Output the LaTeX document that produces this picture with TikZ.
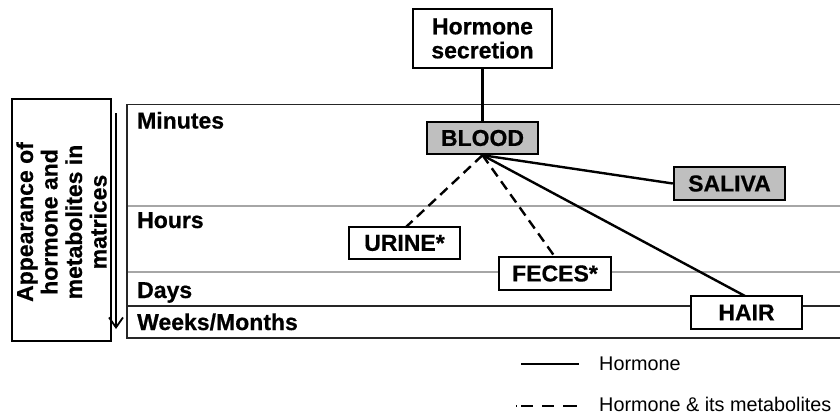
\documentclass[tikz,border=0pt]{standalone}
\usepackage{fontspec}
\setmainfont{Liberation Sans}
\newfontfamily\heavyfont{Liberation Sans Bold}[FakeBold=0.6]
\usetikzlibrary{arrows.meta}
\begin{document}
\begin{tikzpicture}[x=1pt,y=-1pt,
  box/.style={draw=black,line width=2.4pt,fill=white,inner sep=0pt,font=\fontsize{23}{24}\heavyfont,align=center},
  graybox/.style={box,fill=gray!50},
  rowlabel/.style={anchor=base west,inner sep=0pt,font=\fontsize{23}{24}\heavyfont},
  conn/.style={line width=2.4pt},
  dconn/.style={line width=2.4pt,dash pattern=on 10pt off 6pt},
  legtext/.style={anchor=west,inner sep=0pt,font=\fontsize{19.8}{24}\selectfont}]
\useasboundingbox (0,0) rectangle (840,416);
\begin{scope}
\clip (0,0) rectangle (840,416);
% table
\draw[gray!70,line width=1.4pt] (127,206) -- (850,206);
\draw[gray!70,line width=1.4pt] (127,272) -- (850,272);
\draw[black!85,line width=1.7pt] (127,306) -- (850,306);
\draw[black!85,line width=1.7pt] (850,104.5) -- (127,104.5) -- (127,338) -- (850,338);
\end{scope}
\node[rowlabel] (minutes) at (137,128.5) {Minutes};
\node[rowlabel] (hours) at (137,228) {Hours};
\node[rowlabel] (days) at (137,298) {Days};
\node[rowlabel] (weeks) at (137,330) {Weeks/Months};
% left box
\node[draw=black,line width=2.2pt,minimum width=99pt,minimum height=242pt,inner sep=0pt] (axisbox) at (61.5,220) {};
\node[rotate=90,align=center,inner sep=0pt,font=\fontsize{23}{24.5}\heavyfont] (axistext) at (61.5,222) {Appearance of\\hormone and\\metabolites in\\matrices};
\coordinate (arrtop) at (116,113);
\coordinate (arrbot) at (116,329);
\draw[line width=1.8pt,-{Straight Barb[length=10pt,width=14pt,line width=1.8pt]}] (arrtop) -- (arrbot);
% nodes
\node[box,minimum width=139pt,minimum height=59pt] (sec) at (482.5,38.5) {Hormone\\secretion};
\node[graybox,minimum width=111pt,minimum height=32pt] (blood) at (482.5,138) {BLOOD};
\node[graybox,minimum width=111pt,minimum height=33pt] (saliva) at (729.5,183.5) {SALIVA};
% connectors
\draw[conn] (sec.south) -- (blood.north);
\draw[conn] (blood.south) -- (saliva.west);
\coordinate (hairtop) at (745,296);
\draw[conn] (blood.south) -- (hairtop);
\coordinate (urinetop) at (406,227);
\coordinate (fecestop) at (555,257);
\draw[dconn] (blood.south) -- (urinetop);
\draw[dconn] (blood.south) -- (fecestop);
\node[box,minimum width=111pt,minimum height=32pt] (urine) at (404.5,243) {URINE*};
\node[box,minimum width=112pt,minimum height=33pt] (feces) at (555,273.5) {FECES*};
\node[box,minimum width=111pt,minimum height=33pt] (hair) at (746.5,312.5) {HAIR};
% legend
\coordinate (l1a) at (521,364);
\coordinate (l1b) at (579,364);
\draw[conn] (l1a) -- (l1b);
\node[legtext] (leg1) at (599,364) {Hormone};
\coordinate (l2a) at (516,406);
\coordinate (l2b) at (578,406);
\draw[line width=2.4pt,dash pattern=on 1pt off 4pt on 12pt off 9pt on 12pt off 9pt on 14pt off 20pt] (l2a) -- (l2b);
\node[legtext] (leg2) at (599,404) {Hormone \& its metabolites};
\end{tikzpicture}
\end{document}
